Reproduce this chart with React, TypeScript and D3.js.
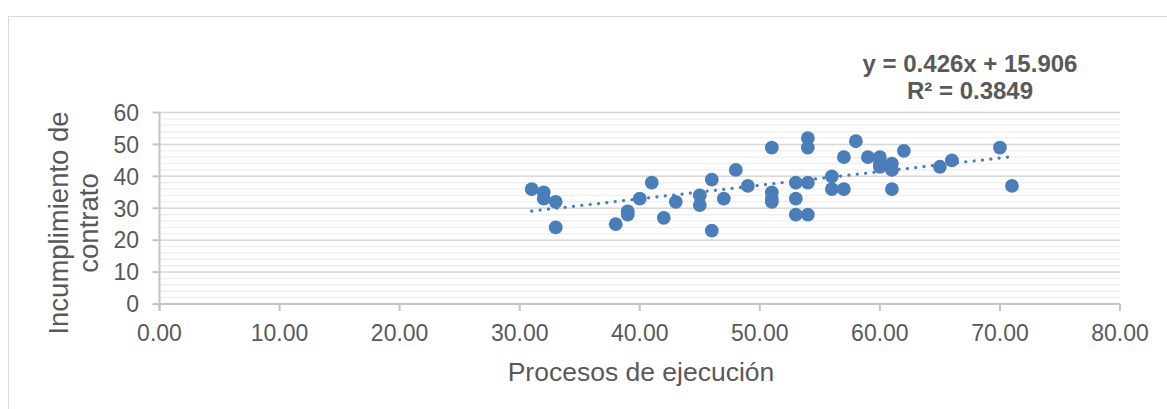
import * as d3 from "d3";

// Procesos de ejecución (x) vs Incumplimiento de contrato (y)
const xValues = [
  31, 32, 32, 33, 33, 38, 39, 39, 40, 41, 42, 43, 45, 45, 46, 46, 47, 48, 49, 51, 51, 51, 51, 53,
  53, 53, 54, 54, 54, 54, 56, 56, 57, 57, 58, 59, 60, 60, 60, 61, 61, 61, 62, 65, 66, 70, 71,
];
const yValues = [
  36, 35, 33, 32, 24, 25, 29, 28, 33, 38, 27, 32, 34, 31, 39, 23, 33, 42, 37, 49, 35, 33, 32, 38,
  33, 28, 52, 49, 38, 28, 40, 36, 46, 36, 51, 46, 46, 44, 43, 44, 42, 36, 48, 43, 45, 49, 37,
];

const xTicks = [0, 10, 20, 30, 40, 50, 60, 70, 80];
const yTicks = [0, 10, 20, 30, 40, 50, 60];
const yMinorTicks = d3.range(0, 61, 2);

const slope = 0.426;
const intercept = 15.906;
const equationLines = ["y = 0.426x + 15.906", "R² = 0.3849"];
const xTitle = "Procesos de ejecución";
const yTitleLines = ["Incumplimiento de", "contrato"];

const W = 1167;
const H = 409;
const BLUE = "#4a7ebb";
const TEXT = "#595959";
const FONT = "'Liberation Sans', Arial, sans-serif";

export default function App() {
  const x = d3.scaleLinear().domain([0, 80]).range([159.5, 1120]);
  const y = d3.scaleLinear().domain([0, 60]).range([304, 112.5]);

  const points = xValues.map((v, i) => ({ x: v, y: yValues[i] }));
  const [x0, x1] = d3.extent(xValues) as [number, number];
  const trend = d3
    .line<number>()
    .x((d) => x(d))
    .y((d) => y(slope * d + intercept));

  return (
    <svg
      width={W}
      height={H}
      style={{ position: "absolute", left: 0, top: 0, background: "#fff" }}
      fontFamily={FONT}
    >
      {/* chart frame */}
      <rect x={8.5} y={16.5} width={W} height={H} fill="#fff" stroke="#d9d9d9" />

      {/* minor gridlines */}
      {yMinorTicks.map((t) => (
        <line key={"m" + t} x1={x(0)} x2={x(80)} y1={y(t)} y2={y(t)} stroke="#f0f0f0" strokeWidth={1.5} />
      ))}
      {/* major gridlines */}
      {yTicks.map((t) => (
        <line key={"g" + t} x1={x(0)} x2={x(80)} y1={y(t)} y2={y(t)} stroke="#d9d9d9" strokeWidth={1.5} />
      ))}

      {/* axes */}
      <line x1={x(0)} x2={x(0)} y1={y(0) + 6} y2={y(60)} stroke="#c4c4c4" strokeWidth={2} />
      <line x1={x(0)} x2={x(80)} y1={y(0)} y2={y(0)} stroke="#c4c4c4" strokeWidth={2} />
      {yTicks.map((t) => (
        <g key={"yt" + t}>
          <line x1={x(0) - 7} x2={x(0)} y1={y(t)} y2={y(t)} stroke="#c4c4c4" strokeWidth={2} />
          <text x={139} y={y(t)} dy="0.36em" textAnchor="end" fontSize={23} fill={TEXT}>
            {t}
          </text>
        </g>
      ))}
      {xTicks.map((t) => (
        <g key={"xt" + t}>
          <line x1={x(t)} x2={x(t)} y1={y(0)} y2={y(0) + 7} stroke="#c4c4c4" strokeWidth={2} />
          <text x={x(t)} y={341} textAnchor="middle" fontSize={23} fill={TEXT}>
            {d3.format(".2f")(t)}
          </text>
        </g>
      ))}

      {/* axis titles */}
      <text x={641} y={381} textAnchor="middle" fontSize={26.5} fill={TEXT}>
        {xTitle}
      </text>
      <g transform="translate(0,223) rotate(-90)">
        {yTitleLines.map((l, i) => (
          <text key={l} x={0} y={68 + i * 30} textAnchor="middle" fontSize={27.5} fill={TEXT}>
            {l}
          </text>
        ))}
      </g>

      {/* trendline */}
      <path
        d={trend([x0, x1]) ?? ""}
        fill="none"
        stroke={BLUE}
        strokeWidth={3.2}
        strokeLinecap="round"
        strokeDasharray="0.1 8.3"
      />

      {/* points */}
      {points.map((p, i) => (
        <circle key={i} cx={x(p.x)} cy={y(p.y)} r={6.9} fill={BLUE} />
      ))}

      {/* equation label */}
      {equationLines.map((l, i) => (
        <text key={l} x={970} y={72 + i * 27} textAnchor="middle" fontSize={24} fontWeight="bold" fill={TEXT}>
          {l}
        </text>
      ))}
    </svg>
  );
}
